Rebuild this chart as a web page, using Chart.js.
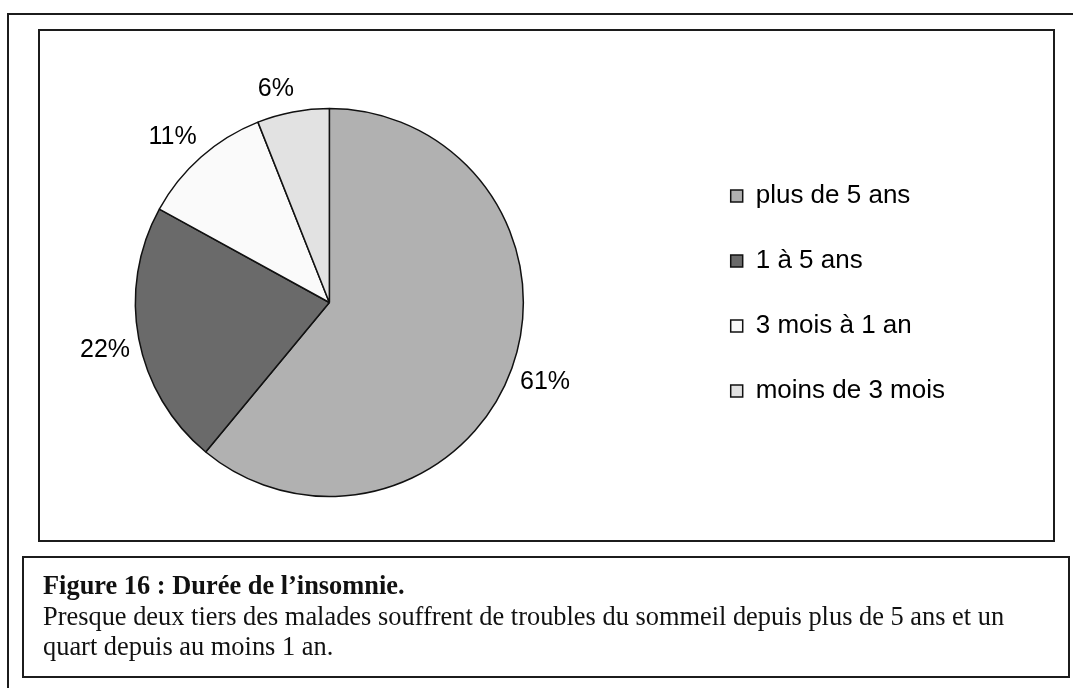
<!DOCTYPE html>
<html>
<head>
<meta charset="utf-8">
<script src="https://cdn.jsdelivr.net/npm/chart.js@4"></script>
<style>
  html, body { margin: 0; padding: 0; background: #fff; overflow: hidden; }
  body { width: 1073px; height: 688px; position: relative; }
  .frame { position: absolute; border: 2px solid #1c1c1c; box-sizing: border-box; }
  #outer { left: 7px; top: 13px; width: 1100px; height: 720px; }
  #chartBox { left: 38px; top: 29px; width: 1017px; height: 513px; }
  #captionBox { left: 22px; top: 556px; width: 1048px; height: 122px; }
  #chart { position: absolute; left: -33px; top: 0; }
  .caption { position: absolute; left: 43px; top: 570px; font-family: "Liberation Serif", "Times New Roman", serif;
             font-size: 26.4px; line-height: 30.5px; color: #111; white-space: nowrap; }
  .caption b { font-weight: bold; }
</style>
</head>
<body>
<div class="frame" id="outer"></div>
<div class="frame" id="chartBox"></div>
<div class="frame" id="captionBox"></div>
<canvas id="chart" width="1110" height="688"></canvas>
<div class="caption">
  <b>Figure 16 : Durée de l’insomnie.</b><br>
  Presque deux tiers des malades souffrent de troubles du sommeil depuis plus de 5 ans et un<br>
  quart depuis au moins 1 an.
</div>

<script>
// durée de l'insomnie (en %)
const categories = ["plus de 5 ans", "1 à 5 ans", "3 mois à 1 an", "moins de 3 mois"];
const shares = [61, 22, 11, 6];

// percentages written outside the pie, like the original spreadsheet chart
const outsideLabels = {
  id: "outsideLabels",
  afterDatasetsDraw(chart) {
    const ctx = chart.ctx;
    const meta = chart.getDatasetMeta(0);
    ctx.save();
    ctx.font = "25px 'Liberation Sans', Arial, sans-serif";
    ctx.fillStyle = "#000";
    ctx.textAlign = "center";
    ctx.textBaseline = "middle";
    meta.data.forEach((arc, i) => {
      const { x, y, startAngle, endAngle, outerRadius } = arc.getProps(
        ["x", "y", "startAngle", "endAngle", "outerRadius"], true);
      const mid = (startAngle + endAngle) / 2;
      const text = shares[i] + "%";
      const w = ctx.measureText(text).width;
      const h = 18;
      const c = Math.cos(mid), s = Math.sin(mid);
      // anchor just outside the rim, then push the text box away from it
      const d = outerRadius + 14;
      const tx = x + c * d + Math.sign(c) * w * 0.4;
      const ty = y + s * d + Math.sign(s) * h / 2;
      ctx.fillText(text, tx, ty);
    });
    ctx.restore();
  }
};

new Chart(document.getElementById("chart"), {
  type: "pie",
  data: {
    labels: categories,
    datasets: [
      {
        data: shares,
        backgroundColor: ["#b1b1b1", "#6a6a6a", "#fafafa", "#e2e2e2"],
        borderColor: "#111",
        borderWidth: 1.5,
        radius: 194,
      },
    ],
  },
  options: {
    responsive: false,
    animation: false,
    layout: { padding: { left: 0, right: 122, top: 144, bottom: 227 } },
    plugins: {
      legend: {
        position: "right",
        align: "start",
        labels: {
          color: "#000",
          font: { family: "'Liberation Sans', Arial, sans-serif", size: 26 },
          boxWidth: 12,
          boxHeight: 12,
          padding: 39,
        },
      },
      tooltip: { enabled: false },
    },
  },
  plugins: [outsideLabels],
});
</script>
</body>
</html>
